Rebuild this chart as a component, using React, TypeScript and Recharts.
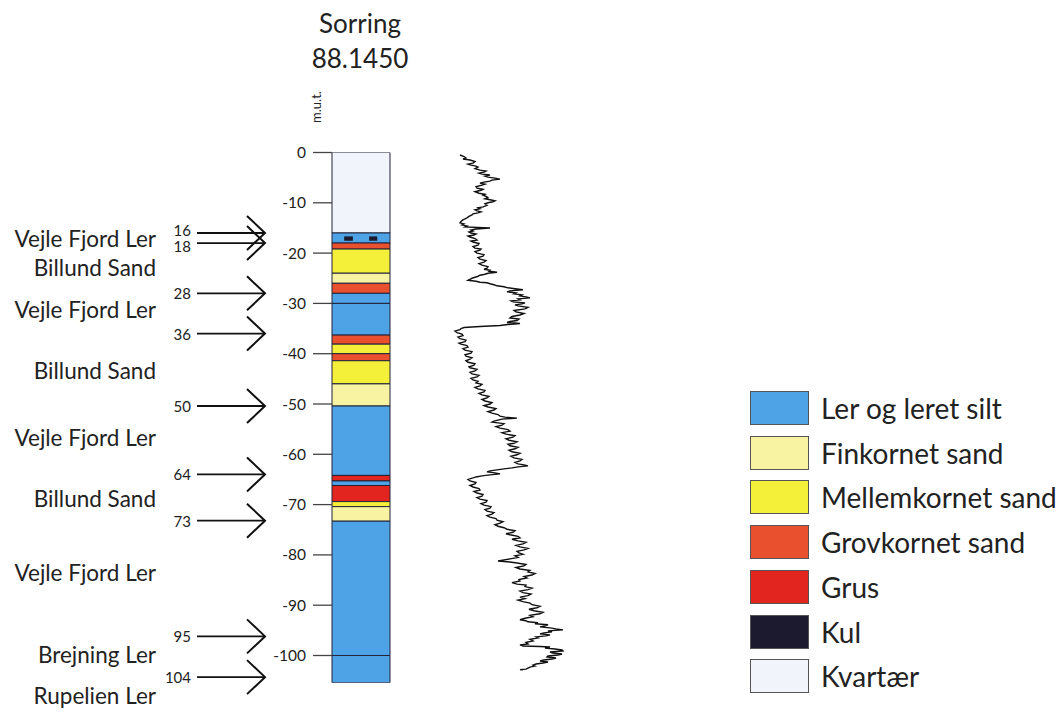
import React from 'react';
import { ComposedChart, BarChart, Bar, XAxis, YAxis, LineChart, Line, Scatter } from 'recharts';

const FONT = 'Lato, "Open Sans", sans-serif';

// Lithology column: bottom depth (m) of each layer and its type
const layerBottoms = [16, 18, 19.2, 24, 26, 28, 30, 36.3, 38.1, 40, 41.4, 46, 50.4, 64.2, 65.3, 66.2, 69.4, 70.4, 73.3, 100, 105.4];
const layerTypes = ['kvartaer', 'lerKul', 'grov', 'mellem', 'fin', 'grov', 'ler', 'ler', 'grov', 'mellem', 'grov', 'mellem', 'fin', 'ler', 'grus', 'ler', 'grus', 'mellem', 'fin', 'ler', 'ler'];

const depthTicks = [0, 10, 20, 30, 40, 50, 60, 70, 80, 90, 100];

const colors: Record<string, string> = {
  ler: '#4ea3e6',
  lerKul: '#4ea3e6',
  fin: '#f7f3a2',
  mellem: '#f4ef38',
  grov: '#e8502e',
  grus: '#e2261f',
  kul: '#1c1a2e',
  kvartaer: '#f1f4fa',
};

const legendLabels = ['Ler og leret silt', 'Finkornet sand', 'Mellemkornet sand', 'Grovkornet sand', 'Grus', 'Kul', 'Kvartær'];
const legendTypes = ['ler', 'fin', 'mellem', 'grov', 'grus', 'kul', 'kvartaer'];

// Formation boundaries (arrows)
const arrowLabels = ['16', '18', '28', '36', '50', '64', '73', '95', '104'];
const arrowDepths = [16, 18, 28, 36, 50.4, 64, 73.2, 96.2, 104.3];

// Formation names and the depth at which they are written
const formationNames = ['Vejle Fjord Ler', 'Billund Sand', 'Vejle Fjord Ler', 'Billund Sand', 'Vejle Fjord Ler', 'Billund Sand', 'Vejle Fjord Ler', 'Brejning Ler', 'Rupelien Ler'];
const formationDepths = [17, 22.8, 31.3, 43.4, 56.6, 68.7, 83.4, 99.9, 107.9];

// Gamma log readings: [depth (m), reading]
const gammaReadings: [number, number][] = [
  [0.5, 20], [0.8, 24], [1.1, 26], [1.3, 23], [1.5, 30], [1.8, 35], [2.1, 33], [2.3, 28], [2.5, 31], [2.7, 36],
  [2.9, 38], [3.2, 35], [3.5, 40], [3.7, 46], [3.9, 44], [4.1, 39], [4.3, 42], [4.4, 48], [4.5, 50], [4.7, 45],
  [4.9, 48], [5.1, 55], [5.3, 60], [5.5, 52], [5.7, 50], [5.9, 44], [6.1, 40], [6.3, 45], [6.5, 42], [6.8, 36],
  [7.1, 37], [7.3, 43], [7.5, 41], [7.8, 35], [8.1, 39], [8.3, 45], [8.5, 43], [8.8, 47], [9.0, 48], [9.2, 45],
  [9.4, 50], [9.6, 55], [9.8, 53], [10.0, 48], [10.2, 45], [10.5, 47], [10.8, 43], [11.0, 38], [11.2, 40], [11.4, 35],
  [11.6, 37], [11.8, 41], [12.0, 38], [12.2, 33], [12.4, 32], [12.7, 29], [13.0, 27], [13.2, 25], [13.4, 23], [13.7, 21],
  [14.0, 20], [14.2, 24], [14.4, 22], [14.6, 27], [14.8, 25], [15.0, 50], [15.2, 36], [15.4, 31], [15.6, 33], [15.8, 29],
  [16.0, 31], [16.2, 36], [16.4, 34], [16.6, 28], [16.8, 30], [17.1, 35], [17.4, 37], [17.6, 31], [17.8, 33], [18.1, 39],
  [18.4, 38], [18.7, 33], [19.0, 35], [19.2, 41], [19.4, 40], [19.7, 35], [20.0, 37], [20.3, 44], [20.6, 43], [20.9, 38],
  [21.2, 40], [21.5, 46], [21.8, 44], [22.1, 39], [22.4, 42], [22.7, 48], [23.0, 47], [23.2, 44], [23.4, 50], [23.6, 49],
  [23.8, 57], [24.0, 48], [24.2, 45], [24.4, 40], [24.6, 38], [24.8, 35], [25.0, 32], [25.2, 30], [25.4, 28], [25.6, 36],
  [25.8, 40], [25.9, 47], [26.1, 50], [26.3, 54], [26.5, 57], [26.7, 64], [26.9, 68], [27.1, 75], [27.3, 83], [27.5, 70],
  [27.7, 67], [27.9, 76], [28.1, 74], [28.3, 82], [28.5, 80], [28.7, 86], [28.9, 90], [29.1, 78], [29.3, 80], [29.5, 71],
  [29.7, 73], [29.9, 85], [30.1, 82], [30.3, 75], [30.5, 78], [30.8, 88], [31.1, 85], [31.4, 74], [31.7, 76], [32.0, 84],
  [32.3, 80], [32.6, 72], [32.9, 70], [33.1, 79], [33.4, 77], [33.6, 70], [33.8, 67], [33.9, 74], [34.0, 80], [34.2, 68],
  [34.4, 60], [34.6, 40], [34.8, 24], [35.0, 21], [35.2, 20], [35.5, 15], [35.8, 17], [36.1, 22], [36.4, 23], [36.7, 18],
  [37.0, 20], [37.3, 26], [37.6, 25], [37.9, 19], [38.1, 21], [38.4, 27], [38.7, 28], [39.0, 23], [39.3, 25], [39.6, 32],
  [39.9, 31], [40.2, 25], [40.5, 26], [40.8, 32], [41.1, 30], [41.4, 26], [41.7, 28], [42.0, 35], [42.3, 34], [42.6, 29],
  [42.8, 30], [43.1, 37], [43.4, 35], [43.7, 30], [44.0, 32], [44.3, 39], [44.6, 37], [44.9, 31], [45.2, 33], [45.5, 38],
  [45.8, 36], [46.1, 42], [46.4, 40], [46.7, 35], [47.0, 38], [47.3, 45], [47.6, 44], [47.9, 39], [48.2, 42], [48.5, 49],
  [48.8, 47], [49.1, 42], [49.4, 45], [49.7, 52], [50.0, 50], [50.3, 44], [50.6, 48], [50.9, 56], [51.2, 54], [51.5, 48],
  [51.8, 52], [52.1, 58], [52.4, 60], [52.6, 65], [52.8, 77], [53.0, 62], [53.2, 58], [53.4, 54], [53.6, 52], [53.9, 64],
  [54.2, 62], [54.5, 56], [54.8, 60], [55.1, 68], [55.4, 70], [55.7, 62], [56.0, 66], [56.3, 75], [56.6, 73], [56.9, 66],
  [57.2, 69], [57.5, 77], [57.8, 74], [58.0, 68], [58.3, 70], [58.6, 78], [58.9, 75], [59.2, 69], [59.5, 72], [59.8, 80],
  [60.1, 77], [60.4, 71], [60.7, 74], [61.0, 82], [61.3, 80], [61.6, 75], [61.9, 78], [62.1, 84], [62.3, 88], [62.5, 78],
  [62.7, 72], [62.9, 64], [63.1, 57], [63.3, 50], [63.5, 47], [63.7, 55], [63.9, 60], [64.1, 50], [64.3, 42], [64.5, 36],
  [64.7, 33], [65.0, 28], [65.3, 30], [65.6, 36], [65.9, 35], [66.2, 30], [66.5, 33], [66.8, 39], [67.1, 40], [67.4, 34],
  [67.7, 37], [68.0, 43], [68.3, 42], [68.6, 37], [68.9, 40], [69.2, 47], [69.5, 46], [69.8, 41], [70.1, 44], [70.4, 51],
  [70.7, 50], [71.0, 45], [71.3, 47], [71.6, 54], [71.9, 52], [72.2, 47], [72.5, 50], [72.8, 56], [73.1, 57], [73.4, 63],
  [73.7, 60], [74.0, 55], [74.3, 58], [74.6, 64], [74.9, 67], [75.2, 75], [75.5, 73], [75.8, 66], [76.0, 70], [76.3, 78],
  [76.6, 80], [76.9, 72], [77.2, 78], [77.5, 86], [77.8, 83], [78.1, 76], [78.4, 80], [78.7, 88], [79.0, 84], [79.3, 77],
  [79.6, 79], [79.9, 83], [80.2, 75], [80.5, 78], [80.8, 70], [81.0, 64], [81.2, 58], [81.4, 70], [81.6, 77], [81.9, 86],
  [82.2, 84], [82.5, 76], [82.8, 80], [83.1, 90], [83.4, 88], [83.7, 95], [84.0, 92], [84.3, 84], [84.6, 87], [84.9, 79],
  [85.2, 80], [85.5, 72], [85.8, 77], [86.0, 86], [86.3, 85], [86.6, 92], [86.9, 88], [87.2, 80], [87.5, 83], [87.8, 91],
  [88.1, 88], [88.4, 80], [88.7, 85], [89.0, 78], [89.3, 83], [89.6, 90], [89.9, 92], [90.2, 100], [90.5, 97], [90.8, 89],
  [91.1, 94], [91.4, 103], [91.7, 100], [92.0, 90], [92.3, 93], [92.6, 85], [92.9, 80], [93.1, 86], [93.3, 88], [93.5, 98],
  [93.7, 95], [93.9, 108], [94.1, 105], [94.3, 100], [94.5, 110], [94.7, 116], [94.9, 123], [95.1, 108], [95.3, 112], [95.5, 104],
  [95.7, 100], [95.9, 110], [96.1, 106], [96.3, 96], [96.5, 98], [96.8, 90], [97.1, 93], [97.4, 86], [97.7, 88], [97.9, 80],
  [98.1, 83], [98.2, 100], [98.3, 110], [98.5, 105], [98.7, 115], [98.9, 122], [99.1, 123], [99.3, 110], [99.5, 113], [99.7, 122],
  [99.9, 118], [100.1, 108], [100.3, 107], [100.5, 116], [100.7, 112], [100.9, 104], [101.1, 100], [101.3, 108], [101.5, 103], [101.7, 96],
  [101.9, 93], [102.1, 95], [102.3, 90], [102.5, 88], [102.7, 86], [102.8, 80], [102.9, 83],
];

// Derived tables
const columnRow: Record<string, any> = { name: 'Sorring' };
layerBottoms.forEach((b, i) => {
  columnRow[`l${i}`] = b - (i === 0 ? 0 : layerBottoms[i - 1]);
});
const columnData = [columnRow];
const gammaData = gammaReadings.map(([d, v]) => ({ d, v }));
const arrowData = arrowDepths.map((d, i) => ({ x: 0, y: d, label: arrowLabels[i] }));
const nameData = formationDepths.map((d, i) => ({ x: 0, y: d, label: formationNames[i] }));

const TOP = 152.5;
const PX_PER_M = 5.03;
const COL_BOTTOM = 105.4;

const KulShape = (props: any) => {
  const { x, y, width, height, fill, stroke } = props;
  const h = Math.abs(height);
  const top = Math.min(y, y + height);
  return (
    <g>
      <rect x={x} y={top} width={width} height={h} fill={fill} stroke={stroke} strokeWidth={1} />
      <rect x={x + width * 0.21} y={top + h * 0.34} width={width * 0.15} height={h * 0.43} fill={colors.kul} />
      <rect x={x + width * 0.64} y={top + h * 0.34} width={width * 0.14} height={h * 0.43} fill={colors.kul} />
    </g>
  );
};

const ArrowShape = (props: any) => {
  const { cy, payload } = props;
  const x0 = 197;
  const x1 = 265;
  let dy = 0;
  if (payload.label === '16') dy = -3;
  if (payload.label === '18') dy = 3;
  return (
    <g>
      <line x1={x0} y1={cy} x2={x1} y2={cy} stroke="#111" strokeWidth={1.8} />
      <polyline points={`${x1 - 18},${cy - 17} ${x1},${cy} ${x1 - 18},${cy + 17}`} fill="none" stroke="#111" strokeWidth={2} />
      <text x={x0 - 6} y={cy + dy} textAnchor="end" dominantBaseline="central" fontSize={15} fill="#222" fontFamily={FONT}>
        {payload.label}
      </text>
    </g>
  );
};

const NameShape = (props: any) => {
  const { cy, payload } = props;
  return (
    <text x={156} y={cy} textAnchor="end" dominantBaseline="central" fontSize={22.5} fill="#222" fontFamily={FONT}>
      {payload.label}
    </text>
  );
};

export default function App() {
  const colHeight = 712;
  const colBottomMargin = colHeight - (TOP + COL_BOTTOM * PX_PER_M);
  const labelDomainMax = 110;
  const labelBottomMargin = colHeight - (TOP + labelDomainMax * PX_PER_M);

  return (
    <div style={{ position: 'absolute', left: 0, top: 0, width: 1056, height: 712, background: '#fff', fontFamily: FONT, color: '#222', overflow: 'hidden' }}>
      {/* Title */}
      <div style={{ position: 'absolute', left: 260, width: 200, top: 6, textAlign: 'center', fontSize: 26, lineHeight: '35px' }}>
        Sorring
        <br />
        88.1450
      </div>
      {/* Axis unit */}
      <div style={{ position: 'absolute', left: 292, top: 99, width: 48, textAlign: 'center', fontSize: 13, lineHeight: '16px', transform: 'rotate(-90deg)' }}>
        m.u.t.
      </div>

      {/* Left labels and arrows */}
      <div style={{ position: 'absolute', left: 0, top: 0 }}>
        <ComposedChart width={280} height={712} data={arrowData} margin={{ top: TOP, bottom: labelBottomMargin, left: 0, right: 0 }}>
          <XAxis type="number" dataKey="x" domain={[0, 1]} hide />
          <YAxis type="number" dataKey="y" domain={[0, labelDomainMax]} reversed hide />
          <Scatter data={arrowData} shape={ArrowShape} isAnimationActive={false} />
          <Scatter data={nameData} shape={NameShape} isAnimationActive={false} />
        </ComposedChart>
      </div>

      {/* Lithology column */}
      <div style={{ position: 'absolute', left: 0, top: 0 }}>
        <BarChart width={400} height={colHeight} data={columnData} margin={{ top: TOP, bottom: colBottomMargin, left: 0, right: 10 }} barCategoryGap={0} barGap={0}>
          <XAxis dataKey="name" type="category" hide />
          <YAxis
            type="number"
            domain={[0, COL_BOTTOM]}
            reversed
            ticks={depthTicks}
            interval={0}
            width={332}
            axisLine={false}
            tickLine={{ stroke: '#444', strokeWidth: 1.3 }}
            tickSize={19}
            tickMargin={7}
            tick={{ fill: '#222', fontSize: 15.5, fontFamily: FONT }}
            tickFormatter={(v: number) => (v === 0 ? '0' : `-${v}`)}
            allowDataOverflow
          />
          {layerTypes.map((t, i) => (
            <Bar
              key={i}
              dataKey={`l${i}`}
              stackId="col"
              fill={colors[t]}
              stroke="#23233a"
              strokeWidth={1}
              isAnimationActive={false}
              shape={t === 'lerKul' ? KulShape : undefined}
            />
          ))}
        </BarChart>
      </div>

      {/* Gamma log (vertical layout: depth increases downward) */}
      <div style={{ position: 'absolute', left: 440, top: 0 }}>
        <LineChart layout="vertical" width={140} height={colHeight} data={gammaData} margin={{ top: TOP, bottom: colBottomMargin, left: 0, right: 0 }}>
          <XAxis type="number" domain={[0, 140]} hide />
          <YAxis type="number" dataKey="d" domain={[0, COL_BOTTOM]} hide />
          <Line dataKey="v" stroke="#111" strokeWidth={1.4} dot={false} isAnimationActive={false} />
        </LineChart>
      </div>

      {/* Legend */}
      <div style={{ position: 'absolute', left: 750, top: 391 }}>
        {legendLabels.map((lab, i) => (
          <div key={lab} style={{ position: 'absolute', left: 0, top: i * 44.7, height: 34, display: 'flex', alignItems: 'center', whiteSpace: 'nowrap' }}>
            <div style={{ width: 57, height: 32, background: colors[legendTypes[i]], border: '1px solid #555', flex: 'none' }} />
            <div style={{ marginLeft: 12, fontSize: 28, lineHeight: '34px' }}>{lab}</div>
          </div>
        ))}
      </div>
    </div>
  );
}
